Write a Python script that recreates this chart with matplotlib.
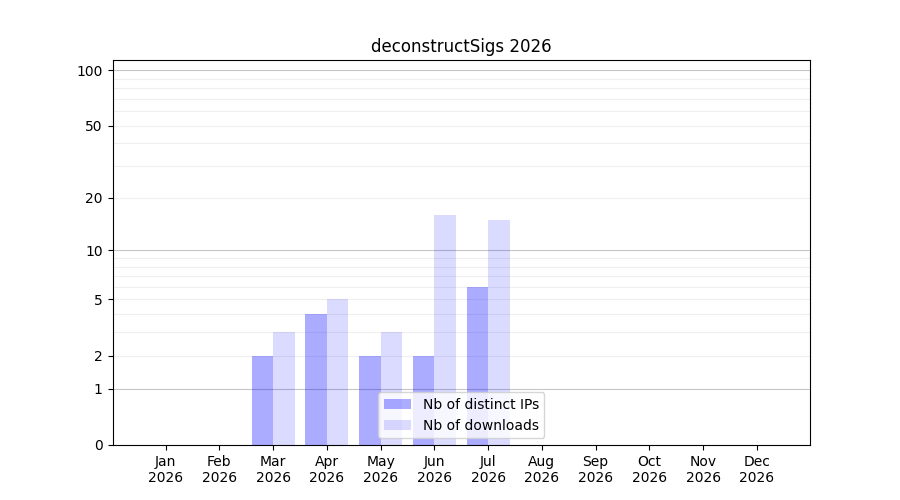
import numpy as np
import matplotlib
matplotlib.use('Agg')
import matplotlib.pyplot as plt

# ── Data ────────────────────────────────────────────────────────────────────
MONTHS = ['Jan', 'Feb', 'Mar', 'Apr', 'May', 'Jun',
          'Jul', 'Aug', 'Sep', 'Oct', 'Nov', 'Dec']
YEAR = 2026
IPS = [0, 0, 2, 4, 2, 2, 6, 0, 0, 0, 0, 0]
DOWNLOADS = [0, 0, 3, 5, 3, 16, 15, 0, 0, 0, 0, 0]
Y_TICKS = [0, 1, 2, 5, 10, 20, 50, 100]


def fwd(y):
    return np.log10(1 + np.maximum(y, 0))


def inv(y):
    return 10 ** y - 1


fig, ax = plt.subplots(figsize=(9, 5), dpi=100)
x = np.arange(len(MONTHS))
w = 0.4

ax.bar(x - w / 2, IPS, w, color='blue', alpha=0.33, label='Nb of distinct IPs')
ax.bar(x + w / 2, DOWNLOADS, w, color='blue', alpha=0.14, label='Nb of downloads')

ax.set_yscale('function', functions=(fwd, inv))
ax.set_ylim(0, 113.5)
ax.set_yticks(Y_TICKS)
ax.set_yticklabels([str(t) for t in Y_TICKS])
ax.yaxis.set_minor_locator(matplotlib.ticker.NullLocator())

# grid: decades darker, intermediate values faint
for dec in [1, 10, 100]:
    ax.axhline(dec, color='grey', lw=0.8, alpha=0.45, zorder=0.5)
    for k in range(2, 10):
        v = dec * k
        if v < 113:
            ax.axhline(v, color='grey', lw=0.8, alpha=0.12, zorder=0.5)

ax.set_xticks(x)
ax.set_xticklabels([f'{m}\n{YEAR}' for m in MONTHS])
ax.set_title(f'deconstructSigs {YEAR}')
ax.legend(loc='lower center')

plt.savefig('out.png', dpi=100)
plt.close()
